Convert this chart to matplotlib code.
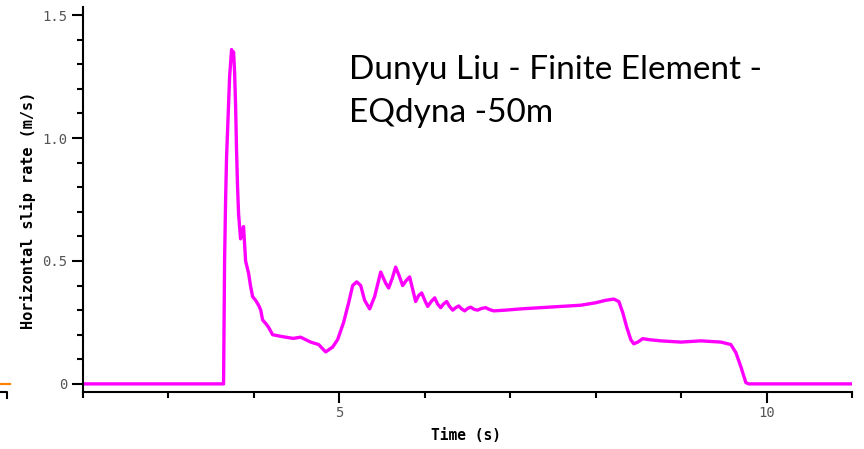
import matplotlib
matplotlib.use("Agg")
import matplotlib.pyplot as plt
from matplotlib.lines import Line2D
from matplotlib.ticker import MultipleLocator

# Slip-rate time series (time in s, horizontal slip rate in m/s)
time_s = [2.0, 3.645, 3.657, 3.669, 3.680, 3.692, 3.716, 3.739, 3.751, 3.762,
          3.774, 3.786, 3.797, 3.809, 3.821, 3.844, 3.862, 3.879, 3.903, 3.938,
          3.960, 3.985, 4.020, 4.055, 4.080, 4.102, 4.140, 4.172, 4.219, 4.290,
          4.371, 4.460, 4.547, 4.664, 4.758, 4.840, 4.922, 4.980, 5.050, 5.109,
          5.156, 5.203, 5.250, 5.296, 5.355, 5.413, 5.484, 5.542, 5.577, 5.620,
          5.659, 5.700, 5.741, 5.782, 5.823, 5.893, 5.930, 5.964, 6.000, 6.034,
          6.075, 6.116, 6.150, 6.186, 6.220, 6.256, 6.290, 6.327, 6.362, 6.397,
          6.432, 6.467, 6.502, 6.537, 6.580, 6.619, 6.665, 6.713, 6.760, 6.807,
          6.947, 7.123, 7.357, 7.591, 7.826, 8.001, 8.118, 8.212, 8.271, 8.317,
          8.364, 8.411, 8.446, 8.493, 8.551, 8.622, 8.762, 8.997, 9.231, 9.465,
          9.582, 9.641, 9.699, 9.758, 9.793, 11.0]
slip_rate = [0.0, 0.0, 0.50, 0.75, 0.92, 1.03, 1.25, 1.36, 1.33, 1.35,
             1.27, 1.13, 0.95, 0.80, 0.69, 0.59, 0.62, 0.64, 0.50, 0.45,
             0.40, 0.355, 0.34, 0.32, 0.30, 0.26, 0.245, 0.23, 0.20, 0.195,
             0.19, 0.185, 0.19, 0.17, 0.16, 0.13, 0.15, 0.18, 0.25, 0.33,
             0.40, 0.415, 0.40, 0.34, 0.305, 0.355, 0.455, 0.41, 0.39, 0.43,
             0.475, 0.44, 0.40, 0.42, 0.435, 0.335, 0.36, 0.37, 0.34, 0.315,
             0.335, 0.35, 0.325, 0.31, 0.325, 0.335, 0.315, 0.30, 0.31, 0.317,
             0.305, 0.297, 0.307, 0.312, 0.303, 0.30, 0.307, 0.31, 0.302, 0.297,
             0.30, 0.305, 0.31, 0.315, 0.32, 0.33, 0.34, 0.345, 0.335, 0.29,
             0.23, 0.18, 0.163, 0.17, 0.184, 0.18, 0.175, 0.17, 0.175, 0.17,
             0.16, 0.127, 0.07, 0.005, 0.0, 0.0]

x_major = [5, 10]
x_major_labels = ["5", "10"]
y_major = [0, 0.5, 1.0, 1.5]
y_major_labels = ["0", "0.5", "1.0", "1.5"]
title_text = "Dunyu Liu - Finite Element -\nEQdyna -50m"
xlabel = "Time (s)"
ylabel = "Horizontal slip rate (m/s)"

W, H = 864, 449
fig = plt.figure(figsize=(W / 100, H / 100), dpi=100)
L, R, B, T = 83, 852, 392, 7
ax = fig.add_axes([L / W, (H - B) / H, (R - L) / W, (B - T) / H])

ax.plot(time_s, slip_rate, color="#FF00FF", lw=2.4, solid_joinstyle="round")

ax.set_xlim(2.0, 11.0)
ax.set_ylim(-0.033, 1.533)

for s in ["top", "right"]:
    ax.spines[s].set_visible(False)
for s in ["left", "bottom"]:
    ax.spines[s].set_linewidth(1.5)
    ax.spines[s].set_color("black")

ax.set_xticks(x_major)
ax.set_xticklabels(x_major_labels)
ax.xaxis.set_minor_locator(MultipleLocator(1))
ax.set_yticks(y_major)
ax.set_yticklabels(y_major_labels)
ax.yaxis.set_minor_locator(MultipleLocator(0.1))

mono = "DejaVu Sans Mono"
ax.tick_params(axis="both", which="major", length=8, width=1.5, color="black",
               direction="out", labelsize=10, labelcolor="#555555", pad=3)
ax.tick_params(axis="x", which="major", pad=2)
ax.tick_params(axis="both", which="minor", length=4.5, width=1.5, color="black",
               direction="out")
for lbl in ax.get_xticklabels() + ax.get_yticklabels():
    lbl.set_fontfamily(mono)

ax.set_xlabel(xlabel, fontfamily=mono, fontweight="bold", fontsize=10.5)
ax.set_ylabel(ylabel, fontfamily=mono, fontweight="bold", fontsize=11)
# label centres as in the reference (pixels -> axes fraction)
ax.xaxis.set_label_coords((466 - L) / (R - L), (B - 436) / (B - T))
ax.yaxis.set_label_coords((28 - L) / (R - L), (B - 210) / (B - T))
ax.xaxis.label.set_verticalalignment("center")
ax.yaxis.label.set_verticalalignment("center")

fig.text(349 / W, 1 - 122 / H, title_text, fontfamily="Lato", fontsize=24,
         ha="left", va="baseline", color="black", linespacing=1.55,
         multialignment="left")

# small fragments at the left edge of the original
fig.add_artist(Line2D([0 / W, 10 / W], [1 - 384 / H, 1 - 384 / H],
                      color="#FF8000", lw=1.6, transform=fig.transFigure))
fig.add_artist(Line2D([0 / W, 7 / W, 7 / W],
                      [1 - 392 / H, 1 - 392 / H, 1 - 398 / H],
                      color="black", lw=1.5, transform=fig.transFigure))

fig.savefig("out.png", dpi=100)
